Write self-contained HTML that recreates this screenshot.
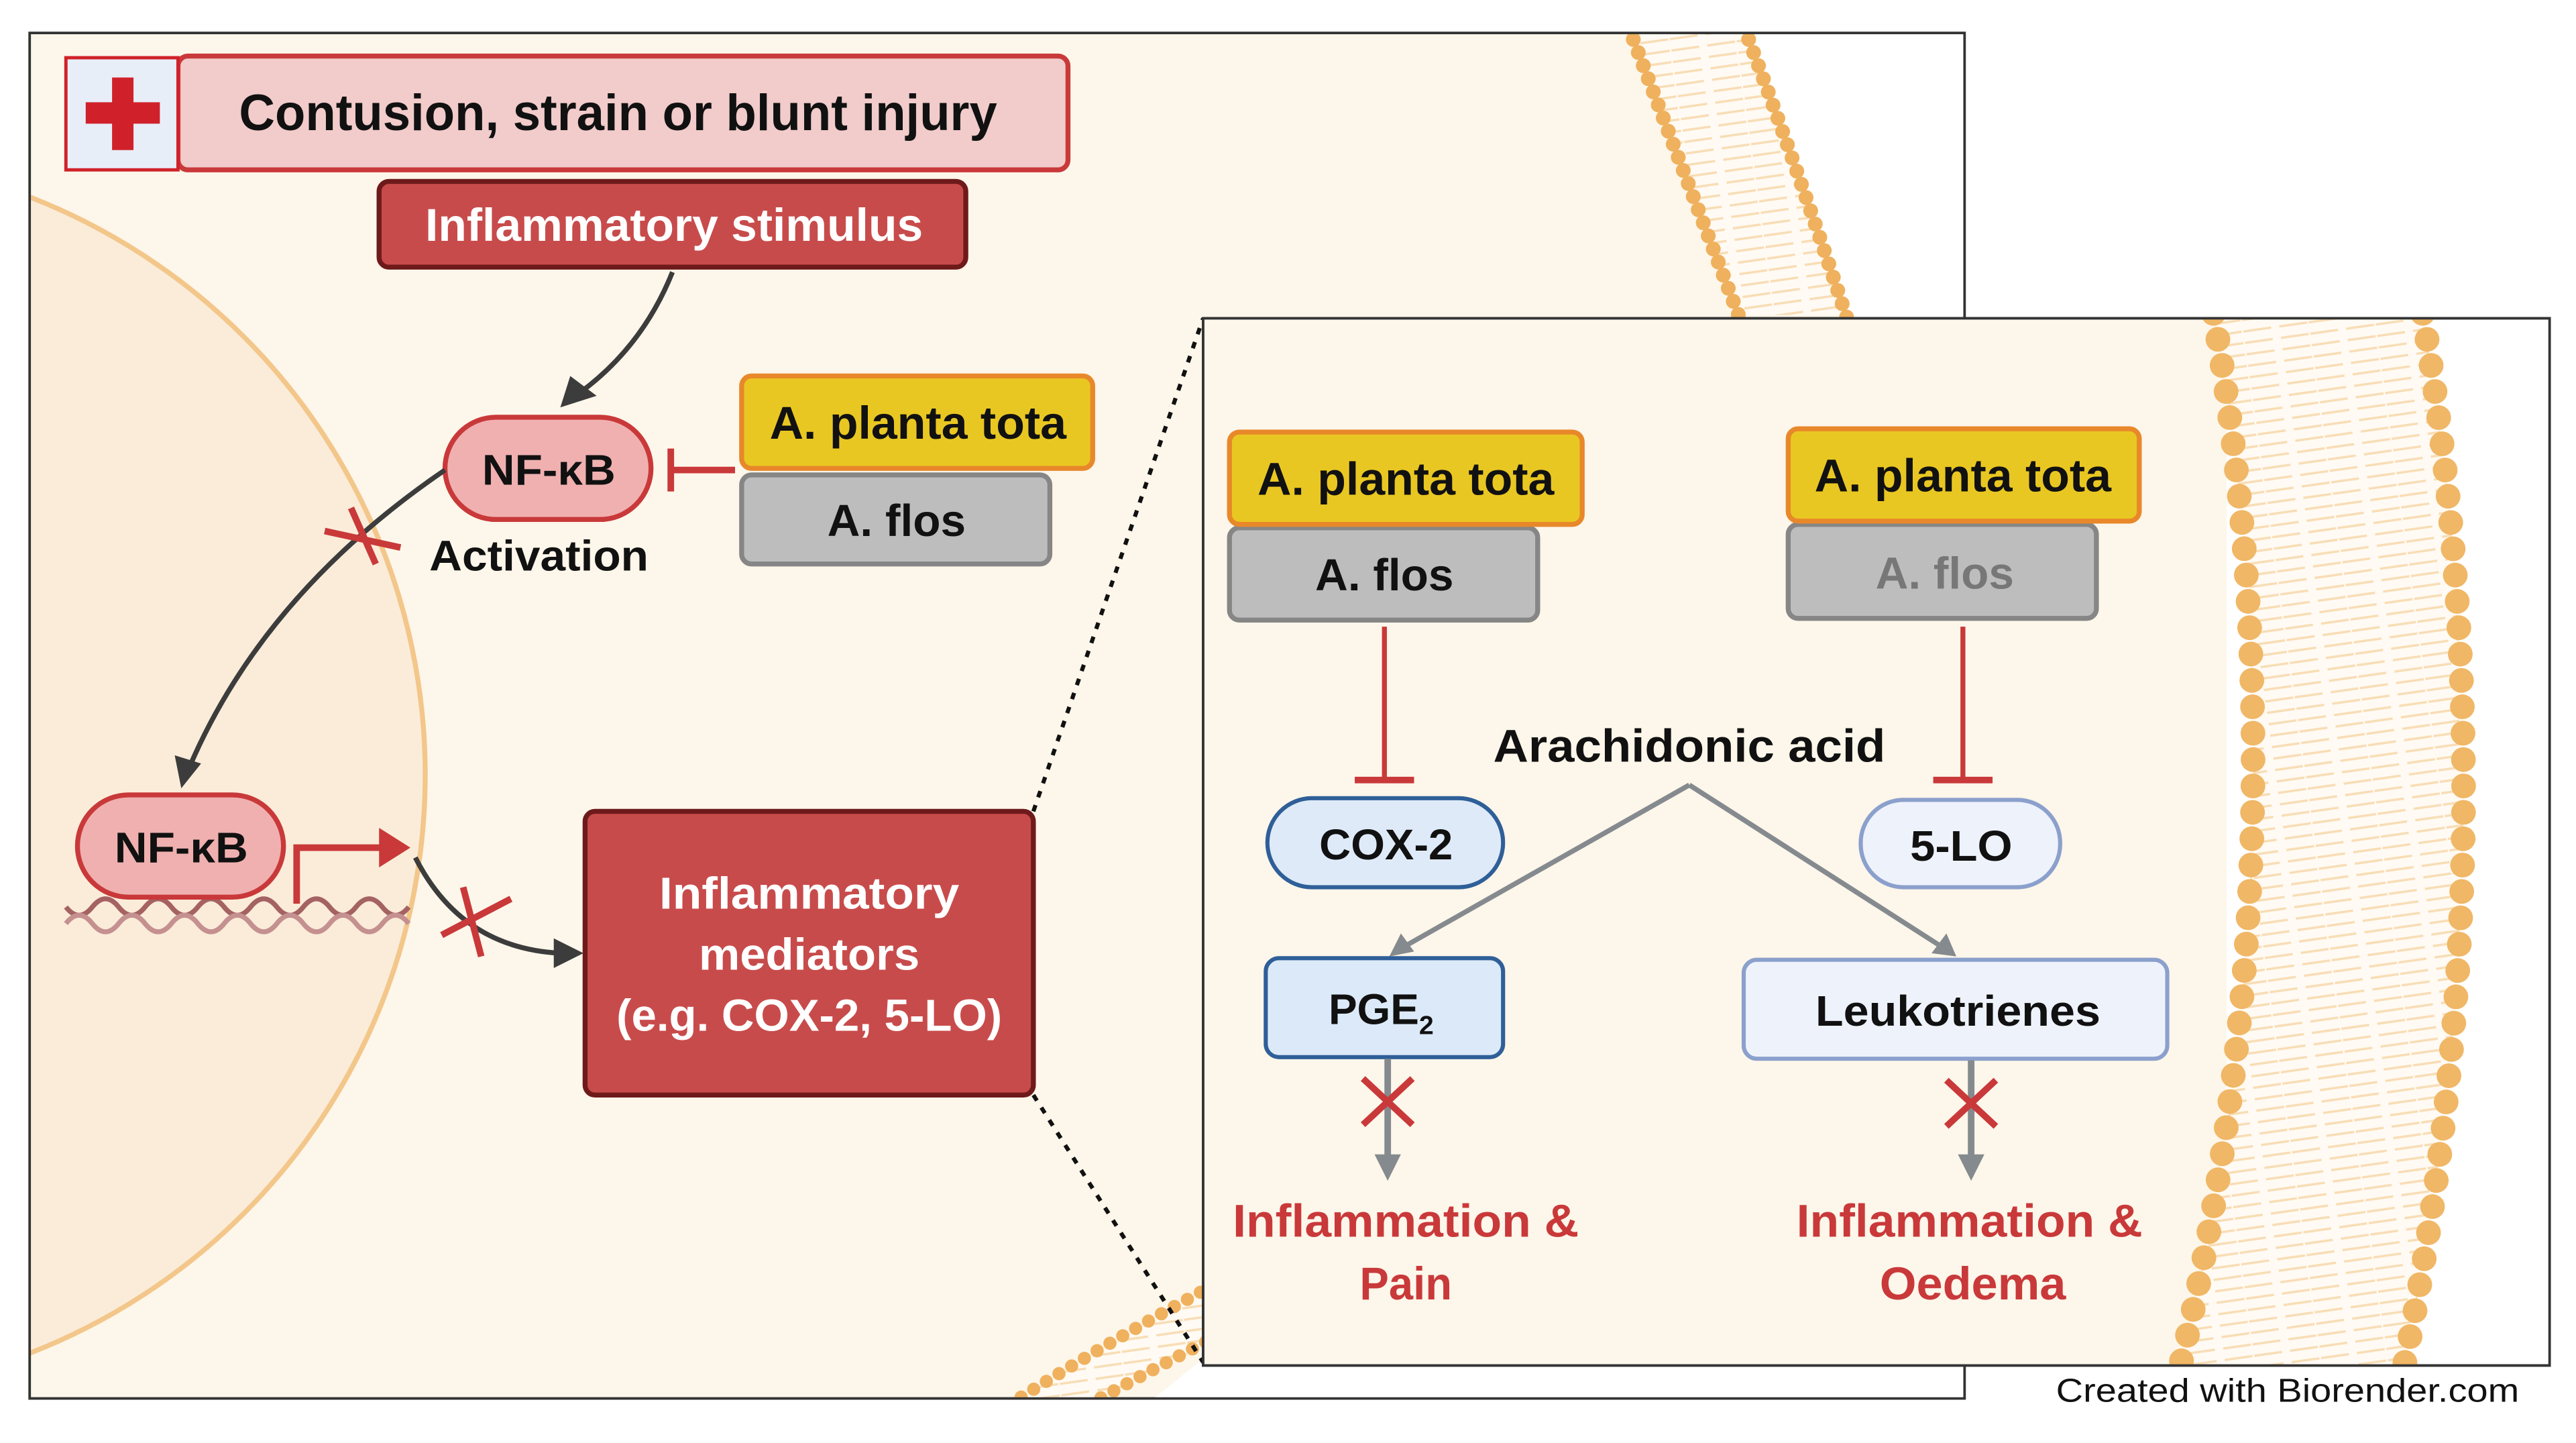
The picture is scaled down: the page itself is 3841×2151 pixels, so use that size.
<!DOCTYPE html>
<html><head><meta charset="utf-8">
<style>
html,body{margin:0;padding:0;background:#fff;}
svg{display:block;}
text{font-family:"Liberation Sans",sans-serif;font-weight:bold;}
</style></head>
<body>
<svg width="3841" height="2151" viewBox="0 0 1563 875" preserveAspectRatio="none" xmlns="http://www.w3.org/2000/svg">
<defs>
<pattern id="tails" width="40" height="7" patternUnits="userSpaceOnUse" patternTransform="rotate(-8)">
<rect width="40" height="7" fill="#fffaf3"/>
<line x1="0" y1="3.5" x2="17" y2="3.5" stroke="#f8ddb5" stroke-width="1.4"/>
<line x1="22" y1="3.5" x2="39" y2="3.5" stroke="#f8ddb5" stroke-width="1.4"/>
</pattern>
<clipPath id="big"><rect x="18" y="20" width="1174" height="828"/></clipPath>
<clipPath id="ins"><rect x="730" y="193" width="817" height="635"/></clipPath>
</defs>

<!-- big frame -->
<rect x="18" y="20" width="1174" height="828" fill="#fdf6ea" stroke="#333" stroke-width="1.5"/>
<g clip-path="url(#big)">
  <circle cx="-118" cy="470" r="376" fill="#faecd9" stroke="#f3c68a" stroke-width="3"/>
  <!-- outside of cell: white -->
  <path d="M1061,20 L1192,20 L1192,848 L700,848 L760,800 L1121,191 Z" fill="#ffffff"/>
  <!-- top right membrane -->
  <path d="M990,20 L1056,191 L1121,191 L1061,20 Z" fill="url(#tails)"/>
  <path d="M988,16 Q1020,100 1056,194" fill="none" stroke="#efb15e" stroke-width="9" stroke-linecap="round" stroke-dasharray="0 8.5"/>
  <path d="M1058,16 Q1090,100 1121,194" fill="none" stroke="#efb15e" stroke-width="9" stroke-linecap="round" stroke-dasharray="0 8.5"/>
  <!-- bottom membrane -->
  <path d="M612,852 L735,780 L735,815 L660,852 Z" fill="url(#tails)"/>
  <path d="M612,852 Q670,815 735,780" fill="none" stroke="#efb15e" stroke-width="8" stroke-linecap="round" stroke-dasharray="0 9"/>
  <path d="M660,852 Q700,830 735,812" fill="none" stroke="#efb15e" stroke-width="8" stroke-linecap="round" stroke-dasharray="0 9"/>
</g>
<rect x="18" y="20" width="1174" height="828" fill="none" stroke="#333" stroke-width="1.5"/>

<!-- top injury box -->
<rect x="108" y="34" width="540" height="69" rx="6" fill="#f2cbcb" stroke="#c9393a" stroke-width="3"/>
<rect x="40" y="35" width="68" height="68" fill="#e8eef8" stroke="#d0212a" stroke-width="2"/>
<rect x="68" y="47" width="13" height="44" fill="#d0212a"/>
<rect x="52" y="62" width="45" height="13" fill="#d0212a"/>
<text x="375" y="79" font-size="31" text-anchor="middle" fill="#111" textLength="460" lengthAdjust="spacingAndGlyphs">Contusion, strain or blunt injury</text>

<!-- inflammatory stimulus -->
<rect x="230" y="110" width="356" height="52" rx="6" fill="#c84b4b" stroke="#6e1a1a" stroke-width="3"/>
<text x="409" y="146" font-size="28" text-anchor="middle" fill="#fff" textLength="302" lengthAdjust="spacingAndGlyphs">Inflammatory stimulus</text>

<path d="M408,165 Q390,210 352,238" fill="none" stroke="#3c3c3c" stroke-width="3"/>
<polygon points="340,247 346,228 362,240" fill="#3c3c3c"/>

<!-- NF-kB top -->
<rect x="270" y="253" width="125" height="62" rx="31" fill="#f0b0b0" stroke="#c9393a" stroke-width="3"/>
<text x="333" y="294" font-size="26" text-anchor="middle" fill="#111" textLength="81" lengthAdjust="spacingAndGlyphs">NF-κB</text>
<text x="327" y="346" font-size="26" text-anchor="middle" fill="#111" textLength="133" lengthAdjust="spacingAndGlyphs">Activation</text>
<line x1="446" y1="285" x2="407" y2="285" stroke="#c9393a" stroke-width="4"/>
<line x1="407" y1="272" x2="407" y2="298" stroke="#c9393a" stroke-width="4"/>

<rect x="450" y="288" width="187" height="54" rx="6" fill="#bdbdbd" stroke="#868686" stroke-width="3"/>
<text x="544" y="325" font-size="27" text-anchor="middle" fill="#111" textLength="84" lengthAdjust="spacingAndGlyphs">A. flos</text>
<rect x="450" y="228" width="213" height="56" rx="6" fill="#e9c722" stroke="#e8882a" stroke-width="3"/>
<text x="557" y="266" font-size="28" text-anchor="middle" fill="#111" textLength="180" lengthAdjust="spacingAndGlyphs">A. planta tota</text>

<path d="M270,285 Q160,360 115,465" fill="none" stroke="#3c3c3c" stroke-width="3"/>
<polygon points="110,478 106,458 122,463" fill="#3c3c3c"/>
<line x1="213" y1="308" x2="228" y2="342" stroke="#c9393a" stroke-width="4"/>
<line x1="197" y1="322" x2="243" y2="332" stroke="#c9393a" stroke-width="4"/>

<!-- DNA -->
<path d="M40,550 q8,10 16,0 q8,-10 16,0 q8,10 16,0 q8,-10 16,0 q8,10 16,0 q8,-10 16,0 q8,10 16,0 q8,-10 16,0 q8,10 16,0 q8,-10 16,0 q8,10 16,0 q8,-10 16,0 q8,10 16,0" fill="none" stroke="#a56262" stroke-width="3"/>
<path d="M40,560 q8,-10 16,0 q8,10 16,0 q8,-10 16,0 q8,10 16,0 q8,-10 16,0 q8,10 16,0 q8,-10 16,0 q8,10 16,0 q8,-10 16,0 q8,10 16,0 q8,-10 16,0 q8,10 16,0 q8,-10 16,0" fill="none" stroke="#c59090" stroke-width="3"/>

<rect x="47" y="482" width="125" height="62" rx="31" fill="#f0b0b0" stroke="#c9393a" stroke-width="3"/>
<text x="110" y="523" font-size="26" text-anchor="middle" fill="#111" textLength="81" lengthAdjust="spacingAndGlyphs">NF-κB</text>

<path d="M180,548 L180,514 L232,514" fill="none" stroke="#c9393a" stroke-width="4"/>
<polygon points="230,502 249,514 230,526" fill="#c9393a"/>

<path d="M252,520 Q280,575 340,578" fill="none" stroke="#3c3c3c" stroke-width="3"/>
<polygon points="354,578 336,569 336,587" fill="#3c3c3c"/>
<line x1="281" y1="538" x2="292" y2="580" stroke="#c9393a" stroke-width="4"/>
<line x1="268" y1="567" x2="310" y2="545" stroke="#c9393a" stroke-width="4"/>

<rect x="355" y="492" width="272" height="172" rx="6" fill="#c84b4b" stroke="#6e1a1a" stroke-width="3"/>
<text x="491" y="551" font-size="27" text-anchor="middle" fill="#fff" textLength="182" lengthAdjust="spacingAndGlyphs">Inflammatory</text>
<text x="491" y="588" font-size="27" text-anchor="middle" fill="#fff" textLength="134" lengthAdjust="spacingAndGlyphs">mediators</text>
<text x="491" y="625" font-size="27" text-anchor="middle" fill="#fff" textLength="234" lengthAdjust="spacingAndGlyphs">(e.g. COX-2, 5-LO)</text>

<line x1="627" y1="492" x2="730" y2="193" stroke="#111" stroke-width="2.5" stroke-dasharray="4 5"/>
<line x1="627" y1="664" x2="730" y2="826" stroke="#111" stroke-width="2.5" stroke-dasharray="4 5"/>

<!-- inset -->
<rect x="730" y="193" width="817" height="635" fill="#ffffff" stroke="#333" stroke-width="1.5"/>
<rect x="731" y="194" width="620" height="633" fill="#fdf6ea"/>
<g clip-path="url(#ins)">
  <path d="M1343,190 Q1400,510 1322,832 L1458,832 Q1525,510 1470,190 Z" fill="url(#tails)"/>
  <path d="M1343,190 Q1400,510 1322,832" fill="none" stroke="#f0b766" stroke-width="15" stroke-linecap="round" stroke-dasharray="0 16"/>
  <path d="M1470,190 Q1525,510 1458,832" fill="none" stroke="#f0b766" stroke-width="15" stroke-linecap="round" stroke-dasharray="0 16"/>
</g>
<rect x="730" y="193" width="817" height="635" fill="none" stroke="#333" stroke-width="1.5"/>

<rect x="746" y="320" width="187" height="56" rx="6" fill="#bdbdbd" stroke="#868686" stroke-width="3"/>
<text x="840" y="358" font-size="27" text-anchor="middle" fill="#111" textLength="84" lengthAdjust="spacingAndGlyphs">A. flos</text>
<rect x="746" y="262" width="214" height="56" rx="6" fill="#e9c722" stroke="#e8882a" stroke-width="3"/>
<text x="853" y="300" font-size="28" text-anchor="middle" fill="#111" textLength="180" lengthAdjust="spacingAndGlyphs">A. planta tota</text>
<line x1="840" y1="380" x2="840" y2="473" stroke="#c9393a" stroke-width="3"/>
<line x1="822" y1="473" x2="858" y2="473" stroke="#c9393a" stroke-width="4"/>

<rect x="1085" y="318" width="187" height="57" rx="6" fill="#bdbdbd" stroke="#868686" stroke-width="3"/>
<text x="1180" y="357" font-size="27" text-anchor="middle" fill="#777" textLength="84" lengthAdjust="spacingAndGlyphs">A. flos</text>
<rect x="1085" y="260" width="213" height="56" rx="6" fill="#e9c722" stroke="#e8882a" stroke-width="3"/>
<text x="1191" y="298" font-size="28" text-anchor="middle" fill="#111" textLength="180" lengthAdjust="spacingAndGlyphs">A. planta tota</text>
<line x1="1191" y1="380" x2="1191" y2="473" stroke="#c9393a" stroke-width="3"/>
<line x1="1173" y1="473" x2="1209" y2="473" stroke="#c9393a" stroke-width="4"/>

<rect x="769" y="484" width="143" height="54" rx="27" fill="#dfeaf8" stroke="#2f5f98" stroke-width="2.5"/>
<text x="841" y="521" font-size="26" text-anchor="middle" fill="#111" textLength="81" lengthAdjust="spacingAndGlyphs">COX-2</text>
<rect x="1129" y="485" width="121" height="53" rx="26" fill="#eef2fb" stroke="#8ba0cc" stroke-width="2.5"/>
<text x="1190" y="522" font-size="26" text-anchor="middle" fill="#111" textLength="62" lengthAdjust="spacingAndGlyphs">5-LO</text>

<text x="1025" y="462" font-size="28" text-anchor="middle" fill="#111" textLength="238" lengthAdjust="spacingAndGlyphs">Arachidonic acid</text>
<path d="M1025,476 L852,574 M1025,476 L1178,574" fill="none" stroke="#858a8e" stroke-width="3"/>
<polygon points="843,580 850,566 858,577" fill="#858a8e"/>
<polygon points="1187,580 1172,578 1181,566" fill="#858a8e"/>

<rect x="768" y="581" width="144" height="60" rx="8" fill="#dce9f8" stroke="#2f5f98" stroke-width="2.5"/>
<text x="838" y="621" font-size="26" text-anchor="middle" fill="#111">PGE<tspan font-size="16" dy="6">2</tspan></text>
<rect x="1058" y="582" width="257" height="60" rx="8" fill="#eef3fb" stroke="#8ba0cc" stroke-width="2.5"/>
<text x="1188" y="622" font-size="26" text-anchor="middle" fill="#111" textLength="173" lengthAdjust="spacingAndGlyphs">Leukotrienes</text>

<line x1="842" y1="642" x2="842" y2="702" stroke="#858a8e" stroke-width="4"/>
<polygon points="834,700 850,700 842,716" fill="#858a8e"/>
<line x1="1196" y1="643" x2="1196" y2="702" stroke="#858a8e" stroke-width="4"/>
<polygon points="1188,700 1204,700 1196,716" fill="#858a8e"/>
<path d="M827,654 L857,682 M857,654 L827,682" stroke="#c9393a" stroke-width="4"/>
<path d="M1181,655 L1211,683 M1211,655 L1181,683" stroke="#c9393a" stroke-width="4"/>

<text x="853" y="750" font-size="28" text-anchor="middle" fill="#c9393a" textLength="210" lengthAdjust="spacingAndGlyphs">Inflammation &amp;</text>
<text x="853" y="788" font-size="28" text-anchor="middle" fill="#c9393a" textLength="56" lengthAdjust="spacingAndGlyphs">Pain</text>
<text x="1195" y="750" font-size="28" text-anchor="middle" fill="#c9393a" textLength="210" lengthAdjust="spacingAndGlyphs">Inflammation &amp;</text>
<text x="1197" y="788" font-size="28" text-anchor="middle" fill="#c9393a" textLength="113" lengthAdjust="spacingAndGlyphs">Oedema</text>

<text x="1388" y="850" font-size="20" text-anchor="middle" fill="#111" style="font-weight:normal" textLength="281" lengthAdjust="spacingAndGlyphs">Created with Biorender.com</text>
</svg>
</body></html>
